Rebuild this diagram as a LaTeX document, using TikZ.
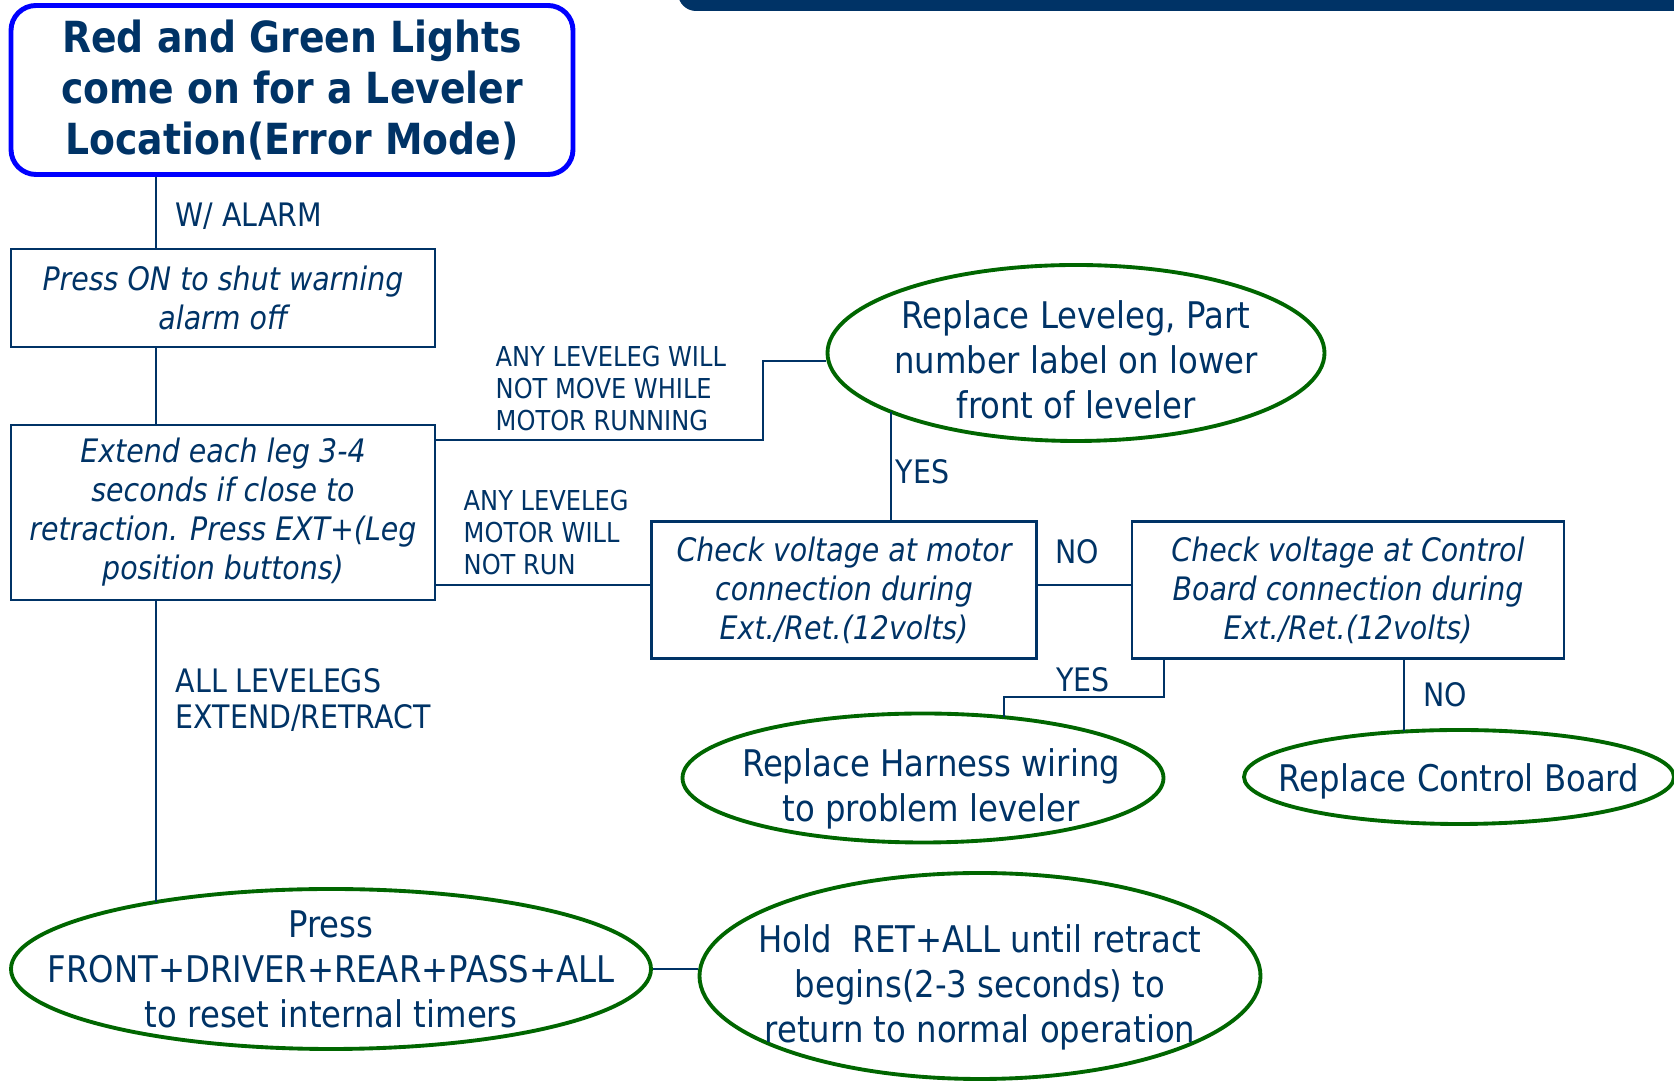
\documentclass[tikz,border=0pt]{standalone}
\usepackage{fontspec}
\setmainfont{DejaVu Sans}[FakeStretch=0.88]
\usetikzlibrary{shapes.geometric}
\definecolor{navy}{RGB}{0,51,102}
\definecolor{ovalgreen}{RGB}{0,102,0}
\definecolor{titleblue}{RGB}{0,0,255}
\tikzset{errbox/.style={draw=titleblue, line width=1.4pt, rounded corners=0.25cm,
  inner sep=0, align=center, font=\fontsize{12.2}{14.5}\selectfont\bfseries}}
\tikzset{stepbox/.style={draw=navy, line width=0.6pt, inner sep=0, align=center,
  font=\fontsize{9.2}{11.1}\selectfont\itshape}}
\tikzset{fixoval/.style={ellipse, draw=ovalgreen, line width=1.1pt, inner sep=0}}
\tikzset{ovaltext/.style={inner sep=0, align=center, font=\fontsize{10.45}{12.8}\selectfont}}
\tikzset{link/.style={draw=navy, line width=0.45pt}}
\tikzset{cond/.style={inner sep=0, align=left, font=\fontsize{9.2}{10.5}\selectfont}}
\tikzset{smallcond/.style={inner sep=0, align=left, font=\fontsize{7.8}{9.1}\selectfont}}

\begin{document}
\begin{tikzpicture}[text=navy]

    \useasboundingbox (0,0) rectangle (16.74,-10.81);

    % strip along the top edge
    \fill[navy, rounded corners=0.18cm] (6.78,0.3) -- (6.78,-0.11) -- (17.0,-0.11) -- (17.0,0.3) -- cycle;

    \coordinate (spine) at (1.56,0);
    \coordinate (nomove) at (0,-4.40);
    \coordinate (bendA) at (7.63,-3.61);
    \coordinate (runline) at (0,-5.85);
    \coordinate (yesdrop) at (11.64,-6.97);

    % where the lines meet the ovals
    \coordinate (resettop) at (1.56,-9.02);
    \coordinate (levelegfoot) at (8.91,-4.12);
    \coordinate (harnesstop) at (10.04,-7.17);
    \coordinate (boardtop) at (14.04,-7.315);

    \node[errbox, minimum width=5.62cm, minimum height=1.69cm] (error) at (2.92,-0.90) {Red and Green Lights\\come on for a Leveler\\Location(Error Mode)};

    \node[stepbox, minimum width=4.24cm, minimum height=0.98cm] (alarm) at (2.23,-2.98) {Press ON to shut warning\\alarm off};
    \node[stepbox, minimum width=4.24cm, minimum height=1.75cm] (extend) at (2.23,-5.125) {Extend each leg 3-4\\seconds if close to\\retraction. Press EXT+(Leg\\position buttons)};
    \node[stepbox, minimum width=3.85cm, minimum height=1.37cm] (motor) at (8.44,-5.90) {Check voltage at motor\\connection during\\Ext./Ret.(12volts)};
    \node[stepbox, minimum width=4.32cm, minimum height=1.37cm] (control) at (13.48,-5.90) {Check voltage at Control\\Board connection during\\Ext./Ret.(12volts)};

    \node[fixoval, minimum width=4.97cm, minimum height=1.76cm] (leveleg) at (10.76,-3.53) {};
    \node[ovaltext] (leveleg-txt) at (10.76,-3.60) {Replace Leveleg, Part\\number label on lower\\front of leveler};

    \node[fixoval, minimum width=4.81cm, minimum height=1.29cm] (harness) at (9.23,-7.78) {};
    \node[ovaltext] (harness-txt) at (9.31,-7.89) {Replace Harness wiring\\to problem leveler};

    \node[fixoval, minimum width=4.30cm, minimum height=0.94cm] (board) at (14.59,-7.77) {};
    \node[ovaltext] (board-txt) at (14.59,-7.81) {Replace Control Board};

    \node[fixoval, minimum width=6.40cm, minimum height=1.60cm] (reset) at (3.31,-9.69) {};
    \node[ovaltext] (reset-txt) at (3.31,-9.69) {Press\\FRONT+DRIVER+REAR+PASS+ALL\\to reset internal timers};

    \node[fixoval, minimum width=5.61cm, minimum height=2.06cm] (hold) at (9.80,-9.76) {};
    \node[ovaltext] (hold-txt) at (9.80,-9.87) {Hold\ \ RET+ALL until retract\\begins(2-3 seconds) to\\return to normal operation};

    \draw[link] (error.south -| spine) -- (alarm.north -| spine);
    \draw[link] (alarm.south -| spine) -- (extend.north -| spine);
    \draw[link] (extend.south -| spine) -- (resettop);
    \draw[link] (extend.east |- nomove) -| (bendA) -- (bendA -| leveleg.west);
    \draw[link] (extend.east |- runline) -- (motor.west |- runline);
    \draw[link] (motor.east |- runline) -- (control.west |- runline);
    \draw[link] (levelegfoot) -- (levelegfoot |- motor.north);
    \draw[link] (control.south -| yesdrop) |- (harnesstop |- yesdrop) -- (harnesstop);
    \draw[link] (boardtop |- control.south) -- (boardtop);
    \draw[link] (reset.east) -- (reset.east -| hold.west);

    \node[cond, anchor=west] (alarm-lbl) at (1.75,-2.16) {W/ ALARM};
    \node[cond, anchor=west] (all-lbl) at (1.75,-7.00) {ALL LEVELEGS\\EXTEND/RETRACT};
    \node[smallcond, anchor=west] (nomove-lbl) at (4.95,-3.89) {ANY LEVELEG WILL\\NOT MOVE WHILE\\MOTOR RUNNING};
    \node[smallcond, anchor=west] (norun-lbl) at (4.63,-5.33) {ANY LEVELEG\\MOTOR WILL\\NOT RUN};
    \node[cond, anchor=west] (yes-motor) at (8.95,-4.72) {YES};
    \node[cond] (no-control) at (10.77,-5.52) {NO};
    \node[cond] (yes-harness) at (10.83,-6.80) {YES};
    \node[cond] (no-board) at (14.45,-6.95) {NO};

\end{tikzpicture}
\end{document}
